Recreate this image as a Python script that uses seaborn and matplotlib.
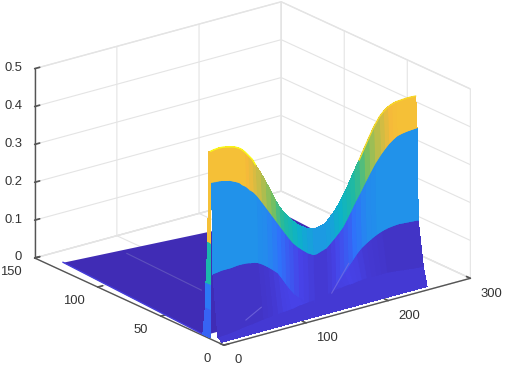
import numpy as np
import seaborn as sns
import matplotlib.pyplot as plt

# wall along x
x_wall = [2, 7, 13, 18, 24, 28, 32, 36, 39, 44, 48, 53, 57, 63, 69, 75, 81, 86, 91, 96, 101, 107, 113, 119, 126,
          130, 134, 138, 142, 147, 152, 157, 162, 167, 172, 177, 183, 189, 195, 201, 208, 213, 218, 223, 228, 234, 240, 246, 252]
z_top = [.492, .494, .495, .494, .491, .489, .486, .481, .477, .466, .455, .441, .424, .400, .375, .346, .317, .297, .280, .265, .252, .239, .229, .220, .214,
         .213, .215, .217, .220, .231, .243, .258, .275, .294, .315, .338, .362, .389, .415, .440, .463, .474, .482, .487, .490, .491, .492, .492, .491]
z_mid = [.411, .410, .409, .406, .403, .399, .395, .390, .383, .375, .365, .355, .344, .324, .303, .282, .261, .243, .226, .209, .193, .179, .167, .156, .147,
         .147, .150, .153, .156, .166, .176, .187, .199, .217, .236, .256, .277, .300, .322, .343, .363, .375, .386, .394, .401, .404, .406, .407, .408]
z_low = [.171, .172, .174, .174, .174, .175, .176, .176, .176, .175, .173, .171, .168, .160, .150, .139, .127, .110, .092, .075, .060, .047, .035, .027, .021,
         .021, .022, .023, .025, .037, .050, .064, .079, .093, .106, .120, .133, .142, .150, .157, .163, .166, .168, .169, .170, .169, .168, .167, .166]
z_lip = [.010, .011, .012, .013, .015, .016, .018, .019, .020, .021, .022, .024, .025, .027, .028, .029, .030, .031, .032, .033, .035, .036, .038, .039, .040,
         .042, .045, .047, .050, .051, .052, .054, .055, .056, .058, .059, .060, .060, .060, .060, .060, .059, .058, .057, .055, .054, .052, .051, .050]
z_edge = [.002] * 49
y_rows = [3, 6, 10, 11, 12]

# colour values of each band
c_top = [.82, .82, .82, .82, .82, .82, .82, .82, .82, .80, .78, .75, .72, .68, .64, .60, .55, .51, .48, .45, .42, .39, .36, .34, .32,
         .32, .32, .32, .33, .35, .38, .40, .43, .46, .49, .52, .56, .61, .66, .70, .74, .77, .80, .81, .82, .82, .82, .82, .82]
c_mid = [.29, .29, .29, .29, .29, .29, .29, .29, .29, .29, .29, .29, .28, .27, .25, .23, .20, .18, .16, .14, .12, .10, .09, .08, .07,
         .07, .07, .07, .08, .09, .11, .13, .15, .17, .20, .22, .25, .27, .28, .29, .29, .29, .29, .29, .29, .29, .29, .29, .29]
c_low = [.05, .05, .05, .05, .05, .05, .05, .05, .05, .05, .05, .05, .055, .06, .07, .08, .09, .095, .10, .10, .10, .095, .09, .085, .08,
         .08, .08, .08, .08, .085, .09, .095, .10, .095, .09, .08, .07, .065, .06, .055, .05, .05, .05, .05, .05, .05, .05, .05, .05]
c_lip = [.07] * 49

# flat part behind the wall
plane_x = [2, 252]
plane_y_front = [17, 17]
plane_y_back = [129, 115]
plane_z_back = [.02, .019]

# end of the wall at x=2
cap_z = [0, .074, .14, .25, .49]
cap_y_back = [18, 16, 15.5, 14, 13.5]
cap_c = [.17, .22, .47, .82, .82]

parula = ["#3E26A8", "#4743E8", "#2F72FA", "#1F95E8", "#0CB2C8", "#21BAA0",
          "#72BF64", "#BABD4A", "#F5BA3A", "#F7D82A", "#F9FB15"]

xticks = [0, 100, 200, 300]
yticks = [0, 50, 100, 150]
zticks = [0, 0.1, 0.2, 0.3, 0.4, 0.5]

sns.set_theme(style="white", font="Liberation Sans", rc={"grid.color": "#e4e4e4", "grid.linewidth": 0.8,
                                                           "axes.edgecolor": "#555555"})
cmap = sns.blend_palette(parula, as_cmap=True)

fig = plt.figure(figsize=(5.05, 3.66), dpi=100)
ax = fig.add_subplot(projection="3d", computed_zorder=False)
ax.set_proj_type("ortho")
ax.view_init(elev=20.7, azim=-127.5)
ax.set_box_aspect((310, 310, 202), zoom=0.93)
ax.set_position([-6.8 / 505, -66.8 / 366, 1, 505 / 366])

# flat part
px = np.array([plane_x, plane_x], dtype=float)
py = np.array([plane_y_front, plane_y_back], dtype=float)
pz = np.array([[0, 0], plane_z_back], dtype=float)
ax.plot_surface(px, py, pz, color=cmap(0.02), shade=False, linewidth=0, zorder=1)
ax.plot([68, 72], [62, 124], [.01, .01], color="#6a60c0", lw=0.8, alpha=0.7, zorder=2)
ax.plot([2, 2], [17, 129], [0, .02], color=cmap(0.08), lw=1, zorder=2)

# wall, drawn twice so the seams between faces do not show
wx = np.array([x_wall] * 5, dtype=float)
wy = np.array([[r] * 49 for r in y_rows], dtype=float)
wz = np.array([z_edge, z_lip, z_low, z_mid, z_top])
wc = cmap(np.array([c_lip, c_low, c_mid, c_top, c_top]))
ax.plot_surface(wx, wy, wz, facecolors=wc, shade=False, rstride=1, cstride=1, linewidth=0, antialiased=False, zorder=3)
ax.plot_surface(wx, wy, wz, facecolors=wc, shade=False, rstride=1, cstride=1, linewidth=0, zorder=3)

# end cap
cx = np.array([[2, 2]] * 5, dtype=float)
cy = np.array([[12, b] for b in cap_y_back], dtype=float)
cz = np.array([[z, z] for z in cap_z])
cc = cmap(np.array([[c, c] for c in cap_c]))
ax.plot_surface(cx, cy, cz, facecolors=cc, shade=False, rstride=1, cstride=1, linewidth=0, antialiased=False, zorder=4)
ax.plot_surface(cx, cy, cz, facecolors=cc, shade=False, rstride=1, cstride=1, linewidth=0, zorder=4)

# yellow rim and pale creases
ax.plot(x_wall[:13], [12] * 13, z_top[:13], color=parula[-1], lw=1, zorder=5)
ax.plot(x_wall[36:], [12] * 13, z_top[36:], color=parula[-2], lw=1, zorder=5)
ax.plot([39, 58], [8, 8], [.031, .054], color="#7a70e0", lw=0.8, alpha=0.7, zorder=5)
ax.plot([145, 166], [9, 9], [.038, .105], color="#7a70e0", lw=0.8, alpha=0.7, zorder=5)

ax.set_xlim(0, 300)
ax.set_ylim(0, 150)
ax.set_zlim(0, 0.5)
ax.set_xticks(xticks)
ax.set_yticks(yticks)
ax.set_zticks(zticks)
ax.set_zticklabels(["0", "0.1", "0.2", "0.3", "0.4", "0.5"])

for axis in [ax.xaxis, ax.yaxis, ax.zaxis]:
    axis.set_pane_color((1, 1, 1, 1))
    axis.pane.set_edgecolor("#e4e4e4")
    axis.line.set_color("#555555")
    axis.line.set_linewidth(1.0)
    axis._axinfo["tick"]["inward_factor"] = 0.0
    axis._axinfo["tick"]["outward_factor"] = 0.25
    axis._axinfo["tick"]["color"] = "#555555"
ax.tick_params(labelsize=9.4, labelcolor="#333333", color="#555555")
ax.tick_params(axis="x", pad=2.5)
ax.tick_params(axis="y", pad=2)
ax.tick_params(axis="z", pad=-2.5)
for lab in ax.get_xticklabels():
    lab.set_ha("left")
    lab.set_va("center")
for lab in ax.get_yticklabels():
    lab.set_ha("right")
    lab.set_va("center")
for lab in ax.get_zticklabels():
    lab.set_ha("right")
    lab.set_va("center")

fig.savefig("out.png", dpi=100)
